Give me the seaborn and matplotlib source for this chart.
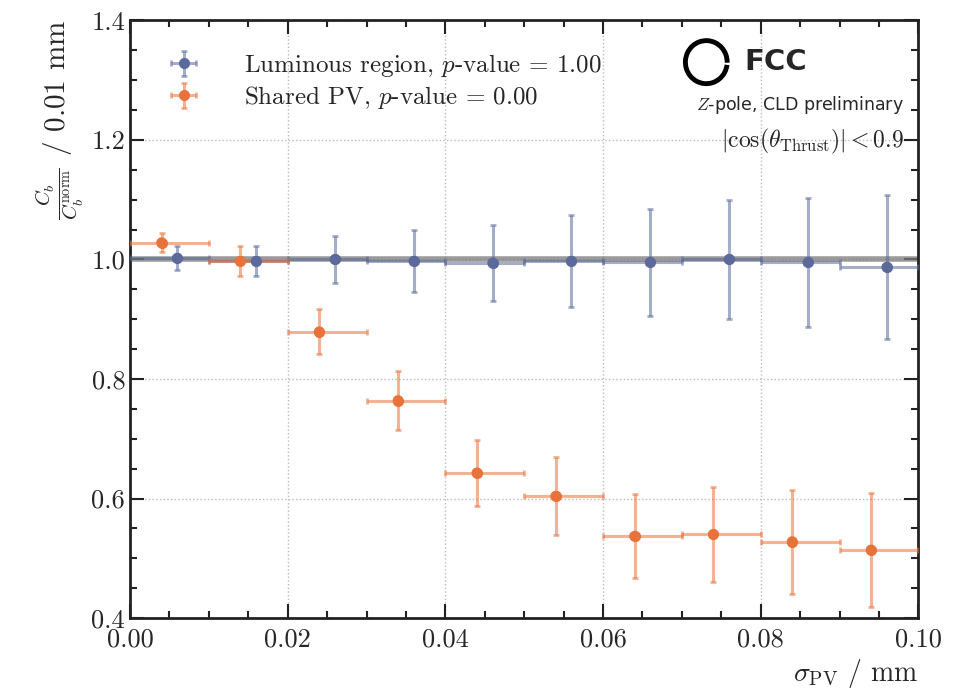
import numpy as np
import pandas as pd
import seaborn as sns
import matplotlib.pyplot as plt
from matplotlib.patches import Arc
from matplotlib.ticker import MultipleLocator

# values
bin_lo = [0.00, 0.01, 0.02, 0.03, 0.04, 0.05, 0.06, 0.07, 0.08, 0.09]
lumi_x = [0.006, 0.016, 0.026, 0.036, 0.046, 0.056, 0.066, 0.076, 0.086, 0.096]
lumi_y = [1.002, 0.997, 1.000, 0.997, 0.994, 0.997, 0.995, 1.000, 0.995, 0.987]
lumi_err = [0.020, 0.025, 0.040, 0.052, 0.064, 0.077, 0.089, 0.099, 0.108, 0.120]
shared_x = [0.004, 0.014, 0.024, 0.034, 0.044, 0.054, 0.064, 0.074, 0.084, 0.094]
shared_y = [1.028, 0.997, 0.879, 0.764, 0.643, 0.604, 0.537, 0.540, 0.528, 0.514]
shared_err = [0.016, 0.025, 0.038, 0.050, 0.055, 0.065, 0.070, 0.079, 0.087, 0.096]

lumi_label = r'Luminous region, $p$-value = 1.00'
shared_label = r'Shared PV, $p$-value = 0.00'
blue = '#5b6a9b'
orange = '#e8733a'

sns.set_theme(style='ticks')
plt.rcParams['font.family'] = ['cmr10']
plt.rcParams['mathtext.fontset'] = 'cm'
plt.rcParams['axes.formatter.use_mathtext'] = True
plt.rcParams['axes.unicode_minus'] = False

df = pd.DataFrame({
    'x': lumi_x + shared_x,
    'y': lumi_y + shared_y,
    'sample': ['lumi'] * 10 + ['shared'] * 10,
})

fig = plt.figure(figsize=(9.59, 7.0), dpi=100)
ax = fig.add_axes([0.1356, 0.117, 0.822, 0.854])

ax.axhline(1.0, color='#7a7a7a', lw=4, alpha=0.75, zorder=1)

handles = []
for xs, ys, errs, col, lab in [(lumi_x, lumi_y, lumi_err, blue, lumi_label),
                               (shared_x, shared_y, shared_err, orange, shared_label)]:
    xs = np.array(xs)
    lo = xs - np.array(bin_lo)
    hi = np.array(bin_lo) + 0.01 - xs
    eb = ax.errorbar(xs, ys, xerr=[lo, hi], yerr=errs, fmt='o', ms=7, color=col,
                     ecolor=col, elinewidth=2.2, capsize=2.5, capthick=2,
                     zorder=3, label=lab)
    for part in eb[1] + eb[2]:
        part.set_alpha(0.55)
    handles.append(eb)

sns.scatterplot(data=df, x='x', y='y', hue='sample', palette=[blue, orange],
                s=60, edgecolor='none', legend=False, ax=ax, zorder=4)

ax.set_xlim(0, 0.1)
ax.set_ylim(0.4, 1.4)
ax.xaxis.set_major_locator(MultipleLocator(0.02))
ax.xaxis.set_minor_locator(MultipleLocator(0.005))
ax.yaxis.set_major_locator(MultipleLocator(0.2))
ax.yaxis.set_minor_locator(MultipleLocator(0.05))
ax.xaxis.set_major_formatter(plt.FuncFormatter(lambda v, p: f'{v:.2f}'))
ax.yaxis.set_major_formatter(plt.FuncFormatter(lambda v, p: f'{v:.1f}'))
ax.tick_params(which='both', direction='in', top=True, right=True,
               labelsize=19, width=1.5, color='#222222')
ax.tick_params(which='major', length=10)
ax.tick_params(which='minor', length=5)
ax.tick_params(axis='x', pad=7)
for sp in ax.spines.values():
    sp.set_linewidth(2)
    sp.set_color('#222222')
ax.grid(True, which='major', ls=':', color='#bbbbbb', lw=1)
ax.set_axisbelow(True)

ax.set_xlabel(r'$\sigma_{\mathrm{PV}}$ / mm', fontsize=20, loc='right')
ax.set_ylabel(r'$\frac{C_b}{C_b^{\mathrm{norm}}}$ / 0.01 mm', fontsize=21, loc='top')

ax.legend(handles=handles, loc='upper left', bbox_to_anchor=(0.014, 0.985),
          frameon=False, fontsize=18, handlelength=1.6, handletextpad=1.6,
          labelspacing=0.2)

# FCC logo and labels
ax.add_patch(Arc((0.0731, 1.330), 0.0053, 0.072, theta1=-20, theta2=300,
                 lw=3.5, color='black', transform=ax.transData, zorder=5))
ax.text(0.0779, 1.331, 'FCC', fontsize=21, fontweight='bold', va='center',
        family='DejaVu Sans')
ax.text(0.0982, 1.259, r'$Z$-pole, CLD preliminary', fontsize=12.5, ha='right',
        va='center', family='DejaVu Sans')
ax.text(0.0982, 1.197, r'$|\cos(\theta_{\mathrm{Thrust}})| < 0.9$', fontsize=17,
        ha='right', va='center')

fig.savefig('out.png', dpi=100)
